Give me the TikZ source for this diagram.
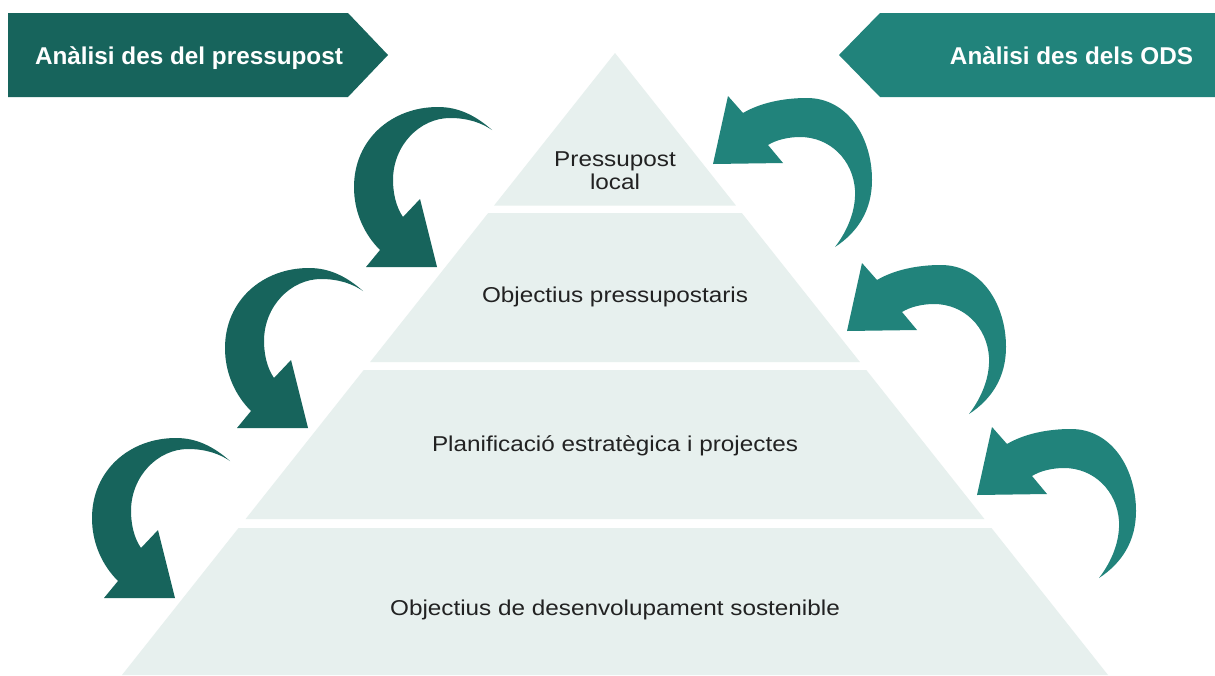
\documentclass[tikz,border=0pt]{standalone}
\usepackage{fontspec}
\setmainfont{Liberation Sans}
\newfontfamily\bodyfont{Liberation Sans}[FakeStretch=1.13]
\definecolor{darkteal}{RGB}{23,100,92}
\definecolor{lightteal}{RGB}{33,131,123}
\definecolor{layerfill}{RGB}{231,240,238}
\definecolor{textdark}{RGB}{34,34,34}
\tikzset{
  layer/.style={fill=layerfill, draw=none},
  lbl/.style={font=\bodyfont\fontsize{21.5}{23}\selectfont, text=textdark, anchor=base, inner sep=0pt},
  bannertext/.style={font=\bfseries\fontsize{24.3}{28}\selectfont, text=white, anchor=base, inner sep=0pt},
  leftarrow/.style={fill=darkteal, draw=none},
  rightarrow/.style={fill=lightteal, draw=none}
}
\newcommand{\leftcurvedarrow}{%
  (492,130) .. controls (475,115) and (458,107) .. (438,107)
  .. controls (391,107) and (354,140) .. (354,187)
  .. controls (354,212) and (364,234) .. (380,250)
  -- (366,267) -- (437,267) -- (420,199) -- (403,217)
  .. controls (396,207) and (393,193) .. (393,180)
  .. controls (393,145) and (420,118) .. (450,118)
  .. controls (468,118) and (482,123) .. (492,130) -- cycle}
\newcommand{\rightcurvedarrow}{%
  (713,164) -- (728,96) -- (743,113)
  .. controls (760,103) and (783,98) .. (807,98)
  .. controls (848,98) and (872,138) .. (872,180)
  .. controls (872,210) and (858,232) .. (835,247)
  .. controls (848,230) and (856,210) .. (855,190)
  .. controls (853,160) and (830,137) .. (800,137)
  .. controls (788,137) and (776,140) .. (768,145)
  -- (783,163) -- cycle}
\begin{document}
\begin{tikzpicture}[x=1pt,y=-1pt]
\useasboundingbox (0,0) rectangle (1215,675);
\fill[white] (0,0) rectangle (1215,675);

% pyramid layers
\fill[layer] (615,53) -- (735.9,205.5) -- (494.1,205.5) -- cycle;
\fill[layer] (488.2,213) -- (741.8,213) -- (859.9,362) -- (370.1,362) -- cycle;
\fill[layer] (363.7,370) -- (866.3,370) -- (984.4,519) -- (245.6,519) -- cycle;
\fill[layer] (238.5,528) -- (991.5,528) -- (1108,675) -- (122,675) -- cycle;

% layer labels
\node[lbl] (l1a) at (615,166) {Pressupost};
\node[lbl] (l1b) at (615,189) {local};
\node[lbl] (l2) at (615,302) {Objectius pressupostaris};
\node[lbl] (l3) at (615,451) {Planificació estratègica i projectes};
\node[lbl] (l4) at (615,615) {Objectius de desenvolupament sostenible};

% banners
\fill[darkteal] (8,13) -- (348,13) -- (388,55) -- (348,97) -- (8,97) -- cycle;
\node[bannertext] (bl) at (189,64) {Anàlisi des del pressupost};
\fill[lightteal] (1215,13) -- (880,13) -- (839,55) -- (880,97) -- (1215,97) -- cycle;
\node[bannertext] (br) at (1071.5,64) {Anàlisi des dels ODS};

% left curved arrows
\fill[leftarrow] \leftcurvedarrow;
\begin{scope}[shift={(-129,161)}]
  \fill[leftarrow] \leftcurvedarrow;
\end{scope}
\begin{scope}[shift={(-262,331)}]
  \fill[leftarrow] \leftcurvedarrow;
\end{scope}

% right curved arrows
\fill[rightarrow] \rightcurvedarrow;
\begin{scope}[shift={(134,167)}]
  \fill[rightarrow] \rightcurvedarrow;
\end{scope}
\begin{scope}[shift={(264,331)}]
  \fill[rightarrow] \rightcurvedarrow;
\end{scope}
\end{tikzpicture}
\end{document}
